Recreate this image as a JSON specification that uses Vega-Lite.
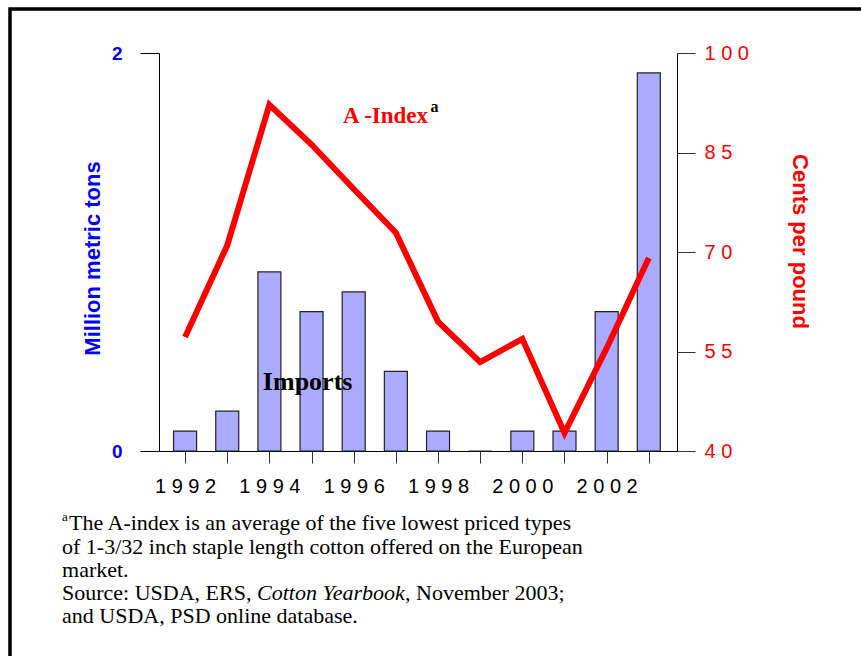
{
  "$schema": "https://vega.github.io/schema/vega-lite/v6.json",
  "width": 861,
  "height": 656,
  "autosize": {"type": "none"},
  "padding": {"left": 10, "top": 9, "right": 0, "bottom": 0},
  "background": "white",
  "config": {
    "view": {"stroke": "black", "strokeWidth": 3.5},
    "axis": {"grid": false, "domainColor": "black", "domainWidth": 1, "tickWidth": 1}
  },
  "data": {
    "values": [
      {"year": 1992, "imports": 0.1, "aindex": 57.2},
      {"year": 1993, "imports": 0.2, "aindex": 71.0},
      {"year": 1994, "imports": 0.9, "aindex": 92.2},
      {"year": 1995, "imports": 0.7, "aindex": 86.2},
      {"year": 1996, "imports": 0.8, "aindex": 79.5},
      {"year": 1997, "imports": 0.4, "aindex": 72.9},
      {"year": 1998, "imports": 0.1, "aindex": 59.5},
      {"year": 1999, "imports": 0.0, "aindex": 53.4},
      {"year": 2000, "imports": 0.1, "aindex": 56.9},
      {"year": 2001, "imports": 0.1, "aindex": 42.7},
      {"year": 2002, "imports": 0.7, "aindex": 55.5},
      {"year": 2003, "imports": 1.9, "aindex": 69.1}
    ]
  },
  "layer": [
    {
      "layer": [
        {
          "mark": {"type": "bar", "width": 23, "fill": "#aaaaff", "stroke": "#222222", "strokeWidth": 1.2},
          "encoding": {
            "x": {
              "field": "year",
              "type": "quantitative",
              "scale": {"domain": [1991.5, 2003.55], "range": [149, 667], "nice": false, "zero": false},
              "axis": {
                "title": null,
                "values": [1992, 1993, 1994, 1995, 1996, 1997, 1998, 1999, 2000, 2001, 2002, 2003],
                "format": "d",
                "labelExpr": "datum.value % 2 === 0 ? join(split(datum.label, ''), ' ') : ''",
                "offset": -214,
                "tickSize": 12,
                "tickColor": "#333333",
                "labelFont": "Liberation Sans",
                "labelFontSize": 20,
                "labelColor": "black",
                "labelPadding": 13,
                "labelFlush": false,
                "labelOverlap": false
              }
            },
            "y": {
              "field": "imports",
              "type": "quantitative",
              "scale": {"domain": [0, 2], "range": [442, 44], "nice": false},
              "axis": {
                "orient": "left",
                "values": [0, 1, 2],
                "format": "d",
                "offset": -149,
                "title": "Million metric tons",
                "titleColor": "#0000ff",
                "titleFont": "Liberation Sans",
                "titleFontSize": 22,
                "titleFontWeight": "bold",
                "titlePadding": 7,
                "titleY": 249,
                "labelColor": "#0000ff",
                "labelFont": "Liberation Sans",
                "labelFontSize": 19,
                "labelFontWeight": "bold",
                "labelPadding": 18,
                "tickSize": 19,
                "tickColor": "black"
              }
            }
          }
        },
        {
          "transform": [{"filter": "datum.year === 1992"}],
          "mark": {"type": "text", "text": "Imports", "font": "Liberation Serif", "fontSize": 26, "fontWeight": "bold", "color": "black", "align": "center", "baseline": "alphabetic"},
          "encoding": {"x": {"datum": 1994.907, "type": "quantitative"}, "y": {"datum": 0.307, "type": "quantitative"}}
        },
        {
          "transform": [{"filter": "datum.year === 1992"}],
          "mark": {"type": "text", "text": "a", "font": "Liberation Serif", "fontSize": 13, "color": "black", "align": "left", "baseline": "middle", "dy": -6},
          "encoding": {"x": {"datum": 1989.081, "type": "quantitative"}, "y": {"datum": -0.3618, "type": "quantitative"}}
        },
        {
          "transform": [{"filter": "datum.year === 1992"}],
          "mark": {"type": "text", "text": "The A-index is an average of the five lowest priced types", "font": "Liberation Serif", "fontSize": 22, "color": "black", "align": "left", "baseline": "middle", "dx": 7},
          "encoding": {"x": {"datum": 1989.081, "type": "quantitative"}, "y": {"datum": -0.3618, "type": "quantitative"}}
        },
        {
          "transform": [{"filter": "datum.year === 1992"}],
          "mark": {"type": "text", "text": ["of 1-3/32 inch staple length cotton offered on the European", "market."], "font": "Liberation Serif", "fontSize": 22, "lineHeight": 23.3, "color": "black", "align": "left", "baseline": "middle"},
          "encoding": {"x": {"datum": 1989.081, "type": "quantitative"}, "y": {"datum": -0.4824, "type": "quantitative"}}
        },
        {
          "transform": [{"filter": "datum.year === 1992"}],
          "mark": {"type": "text", "text": "Source: USDA, ERS,", "font": "Liberation Serif", "fontSize": 22, "color": "black", "align": "left", "baseline": "middle"},
          "encoding": {"x": {"datum": 1989.081, "type": "quantitative"}, "y": {"datum": -0.7136, "type": "quantitative"}}
        },
        {
          "transform": [{"filter": "datum.year === 1992"}],
          "mark": {"type": "text", "text": "Cotton Yearbook", "font": "Liberation Serif", "fontSize": 22, "fontStyle": "italic", "color": "black", "align": "left", "baseline": "middle", "dx": 195},
          "encoding": {"x": {"datum": 1989.081, "type": "quantitative"}, "y": {"datum": -0.7136, "type": "quantitative"}}
        },
        {
          "transform": [{"filter": "datum.year === 1992"}],
          "mark": {"type": "text", "text": ", November 2003;", "font": "Liberation Serif", "fontSize": 22, "color": "black", "align": "left", "baseline": "middle", "dx": 343},
          "encoding": {"x": {"datum": 1989.081, "type": "quantitative"}, "y": {"datum": -0.7136, "type": "quantitative"}}
        },
        {
          "transform": [{"filter": "datum.year === 1992"}],
          "mark": {"type": "text", "text": "and USDA, PSD online database.", "font": "Liberation Serif", "fontSize": 22, "color": "black", "align": "left", "baseline": "middle"},
          "encoding": {"x": {"datum": 1989.081, "type": "quantitative"}, "y": {"datum": -0.829, "type": "quantitative"}}
        }
      ]
    },
    {
      "layer": [
        {
          "mark": {"type": "line", "color": "#ff0000", "strokeWidth": 6, "strokeJoin": "miter", "strokeCap": "butt"},
          "encoding": {
            "x": {"field": "year", "type": "quantitative"},
            "y": {
              "field": "aindex",
              "type": "quantitative",
              "scale": {"domain": [40, 100], "range": [442, 44], "nice": false, "zero": false},
              "axis": {
                "orient": "right",
                "values": [40, 55, 70, 85, 100],
                "offset": -194,
                "title": "Cents per pound",
                "titleColor": "#ff0000",
                "titleFont": "Liberation Sans",
                "titleFontSize": 22,
                "titleFontWeight": "bold",
                "titlePadding": 39,
                "titleY": 232,
                "labelColor": "#ff0000",
                "labelFont": "Liberation Sans",
                "labelFontSize": 20,
                "labelExpr": "join(split(datum.label, ''), ' ')",
                "labelPadding": 9,
                "tickSize": 18,
                "tickColor": "#333333"
              }
            }
          }
        },
        {
          "transform": [{"filter": "datum.year === 1992"}],
          "mark": {"type": "text", "text": "A -Index", "font": "Liberation Serif", "fontSize": 23, "fontWeight": "bold", "color": "#ff0000", "align": "center", "baseline": "alphabetic"},
          "encoding": {"x": {"datum": 1996.756, "type": "quantitative"}, "y": {"datum": 89.5, "type": "quantitative"}}
        },
        {
          "transform": [{"filter": "datum.year === 1992"}],
          "mark": {"type": "text", "text": "a", "font": "Liberation Serif", "fontSize": 16, "fontWeight": "bold", "color": "black", "align": "left", "baseline": "alphabetic", "dx": 45, "dy": -11},
          "encoding": {"x": {"datum": 1996.756, "type": "quantitative"}, "y": {"datum": 89.5, "type": "quantitative"}}
        }
      ]
    }
  ],
  "resolve": {"scale": {"y": "independent"}, "axis": {"y": "independent"}}
}
